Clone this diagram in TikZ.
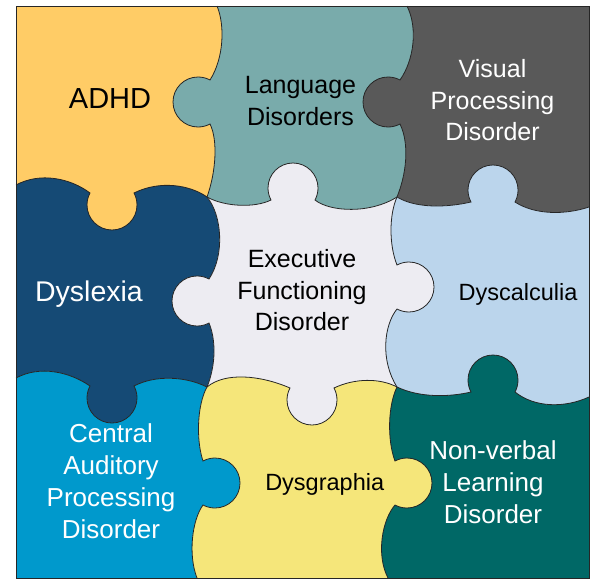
\documentclass[tikz,border=0pt]{standalone}
\usepackage{fontspec}
\setmainfont{Liberation Sans}

\definecolor{adhdcol}{HTML}{FFCC66}
\definecolor{langcol}{HTML}{79ABAB}
\definecolor{visualcol}{HTML}{595959}
\definecolor{dyslexcol}{HTML}{154A75}
\definecolor{execcol}{HTML}{EDECF2}
\definecolor{calccol}{HTML}{BBD5EC}
\definecolor{capdcol}{HTML}{0099CC}
\definecolor{graphcol}{HTML}{F5E67A}
\definecolor{nvldcol}{HTML}{006866}

% knob on a cut going down (side -1 = left, 1 = right)
\newcommand{\knobv}[3]{-- ({#1},{#2-22}) .. controls ({#1+(#3)*3.7},{#2-24}) and ({#1+(#3)*7.8},{#2-25}) .. ({#1+(#3)*12},{#2-25}) .. controls ({#1+(#3)*25.8},{#2-25}) and ({#1+(#3)*37},{#2-13.8}) .. ({#1+(#3)*37},{#2}) .. controls ({#1+(#3)*37},{#2+13.8}) and ({#1+(#3)*25.8},{#2+25}) .. ({#1+(#3)*12},{#2+25}) .. controls ({#1+(#3)*7.8},{#2+25}) and ({#1+(#3)*3.7},{#2+24}) .. ({#1},{#2+22})}
% knob on a cut going right (side -1 = up, 1 = down)
\newcommand{\knobh}[3]{-- ({#1-22},{#2}) .. controls ({#1-24},{#2+(#3)*3.7}) and ({#1-25},{#2+(#3)*7.8}) .. ({#1-25},{#2+(#3)*12}) .. controls ({#1-25},{#2+(#3)*25.8}) and ({#1-13.8},{#2+(#3)*37}) .. ({#1},{#2+(#3)*37}) .. controls ({#1+13.8},{#2+(#3)*37}) and ({#1+25},{#2+(#3)*25.8}) .. ({#1+25},{#2+(#3)*12}) .. controls ({#1+25},{#2+(#3)*7.8}) and ({#1+24},{#2+(#3)*3.7}) .. ({#1+22},{#2})}

% the four cuts through the square
\newcommand{\vcutA}{(217,6) .. controls (225,25) and (224,58) .. (210,80) \knobv{210}{102}{-1} .. controls (218,140) and (216,172) .. (207,197) .. controls (222,215) and (225,255) .. (209,279) \knobv{209}{301}{-1} .. controls (216,340) and (216,365) .. (207,387) .. controls (197,405) and (196,440) .. (203,461) \knobv{203}{483}{1} .. controls (192,520) and (188,555) .. (197,578)}
\newcommand{\vcutB}{(407,6) .. controls (418,28) and (414,60) .. (400,80) \knobv{400}{102}{-1} .. controls (410,145) and (406,175) .. (397,197) .. controls (389,215) and (389,245) .. (397,265) \knobv{397}{287}{1} .. controls (384,325) and (380,360) .. (397,387) .. controls (388,405) and (387,440) .. (395,461) \knobv{395}{483}{1} .. controls (382,520) and (376,555) .. (388,578)}
\newcommand{\hcutA}{(16,185) .. controls (40,172) and (70,178) .. (90,193) \knobh{112}{193}{1} .. controls (160,180) and (190,185) .. (207,197) .. controls (225,207) and (255,208) .. (271,200) \knobh{293}{200}{-1} .. controls (330,212) and (370,214) .. (397,197) .. controls (415,208) and (445,208) .. (471,202) \knobh{493}{202}{-1} .. controls (535,215) and (565,215) .. (589,207)}
\newcommand{\hcutB}{(16,378) .. controls (40,365) and (70,372) .. (90,386) \knobh{112}{386}{1} .. controls (155,375) and (185,376) .. (207,387) .. controls (225,372) and (260,375) .. (290,388) \knobh{312}{388}{1} .. controls (355,378) and (380,378) .. (397,387) .. controls (420,398) and (450,397) .. (471,392) \knobh{493}{392}{-1} .. controls (535,408) and (565,408) .. (589,397)}

\begin{document}
\begin{tikzpicture}[x=1pt, y=-1pt,
    cut/.style={draw=black!85, line width=0.8pt},
    lbl/.style={anchor=base, align=center, inner sep=0pt},
    fs/.style={font=\fontsize{#1}{31.7}\selectfont}]
    \useasboundingbox (0,0) rectangle (613,581);

    % Top row
    \begin{scope}
        \clip \vcutA -- (0,578) -- (0,6) -- cycle;
        \clip \hcutA -- (589,0) -- (16,0) -- cycle;
        \fill[adhdcol] (16,6) rectangle (589,578);
    \end{scope}
    \begin{scope}
        \clip \vcutA -- (613,578) -- (613,6) -- cycle;
        \clip \vcutB -- (0,578) -- (0,6) -- cycle;
        \clip \hcutA -- (589,0) -- (16,0) -- cycle;
        \fill[langcol] (16,6) rectangle (589,578);
    \end{scope}
    \begin{scope}
        \clip \vcutB -- (613,578) -- (613,6) -- cycle;
        \clip \hcutA -- (589,0) -- (16,0) -- cycle;
        \fill[visualcol] (16,6) rectangle (589,578);
    \end{scope}

    % Middle row
    \begin{scope}
        \clip \vcutA -- (0,578) -- (0,6) -- cycle;
        \clip \hcutA -- (589,581) -- (16,581) -- cycle;
        \clip \hcutB -- (589,0) -- (16,0) -- cycle;
        \fill[dyslexcol] (16,6) rectangle (589,578);
    \end{scope}
    \begin{scope}
        \clip \vcutA -- (613,578) -- (613,6) -- cycle;
        \clip \vcutB -- (0,578) -- (0,6) -- cycle;
        \clip \hcutA -- (589,581) -- (16,581) -- cycle;
        \clip \hcutB -- (589,0) -- (16,0) -- cycle;
        \fill[execcol] (16,6) rectangle (589,578);
    \end{scope}
    \begin{scope}
        \clip \vcutB -- (613,578) -- (613,6) -- cycle;
        \clip \hcutA -- (589,581) -- (16,581) -- cycle;
        \clip \hcutB -- (589,0) -- (16,0) -- cycle;
        \fill[calccol] (16,6) rectangle (589,578);
    \end{scope}

    % Bottom row
    \begin{scope}
        \clip \vcutA -- (0,578) -- (0,6) -- cycle;
        \clip \hcutB -- (589,581) -- (16,581) -- cycle;
        \fill[capdcol] (16,6) rectangle (589,578);
    \end{scope}
    \begin{scope}
        \clip \vcutA -- (613,578) -- (613,6) -- cycle;
        \clip \vcutB -- (0,578) -- (0,6) -- cycle;
        \clip \hcutB -- (589,581) -- (16,581) -- cycle;
        \fill[graphcol] (16,6) rectangle (589,578);
    \end{scope}
    \begin{scope}
        \clip \vcutB -- (613,578) -- (613,6) -- cycle;
        \clip \hcutB -- (589,581) -- (16,581) -- cycle;
        \fill[nvldcol] (16,6) rectangle (589,578);
    \end{scope}

    % Lines
    \draw[cut] \vcutA;
    \draw[cut] \vcutB;
    \draw[cut] \hcutA;
    \draw[cut] \hcutB;
    \draw[cut] (16,6) rectangle (589,578);

    % Labels (base = last line)
    \node[lbl, fs=29] (adhd) at (110,108.3) {ADHD};
    \node[lbl, fs=25] (lang) at (300.5,125) {Language\\Disorders};
    \node[lbl, fs=25, text=white] (visual) at (492.5,140.7) {Visual\\Processing\\Disorder};
    \node[lbl, fs=28.5, text=white] (dyslexia) at (89,301.7) {Dyslexia};
    \node[lbl, fs=25] (exec) at (302,330.7) {Executive\\Functioning\\Disorder};
    \node[lbl, fs=23.5] (dyscalc) at (518,300) {Dyscalculia};
    \node[lbl, fs=26, text=white] (capd) at (111,538) {Central\\Auditory\\Processing\\Disorder};
    \node[lbl, fs=23.5] (dysgraph) at (324.7,490) {Dysgraphia};
    \node[lbl, fs=26, text=white] (nvld) at (493,523) {Non-verbal\\Learning\\Disorder};

\end{tikzpicture}
\end{document}
